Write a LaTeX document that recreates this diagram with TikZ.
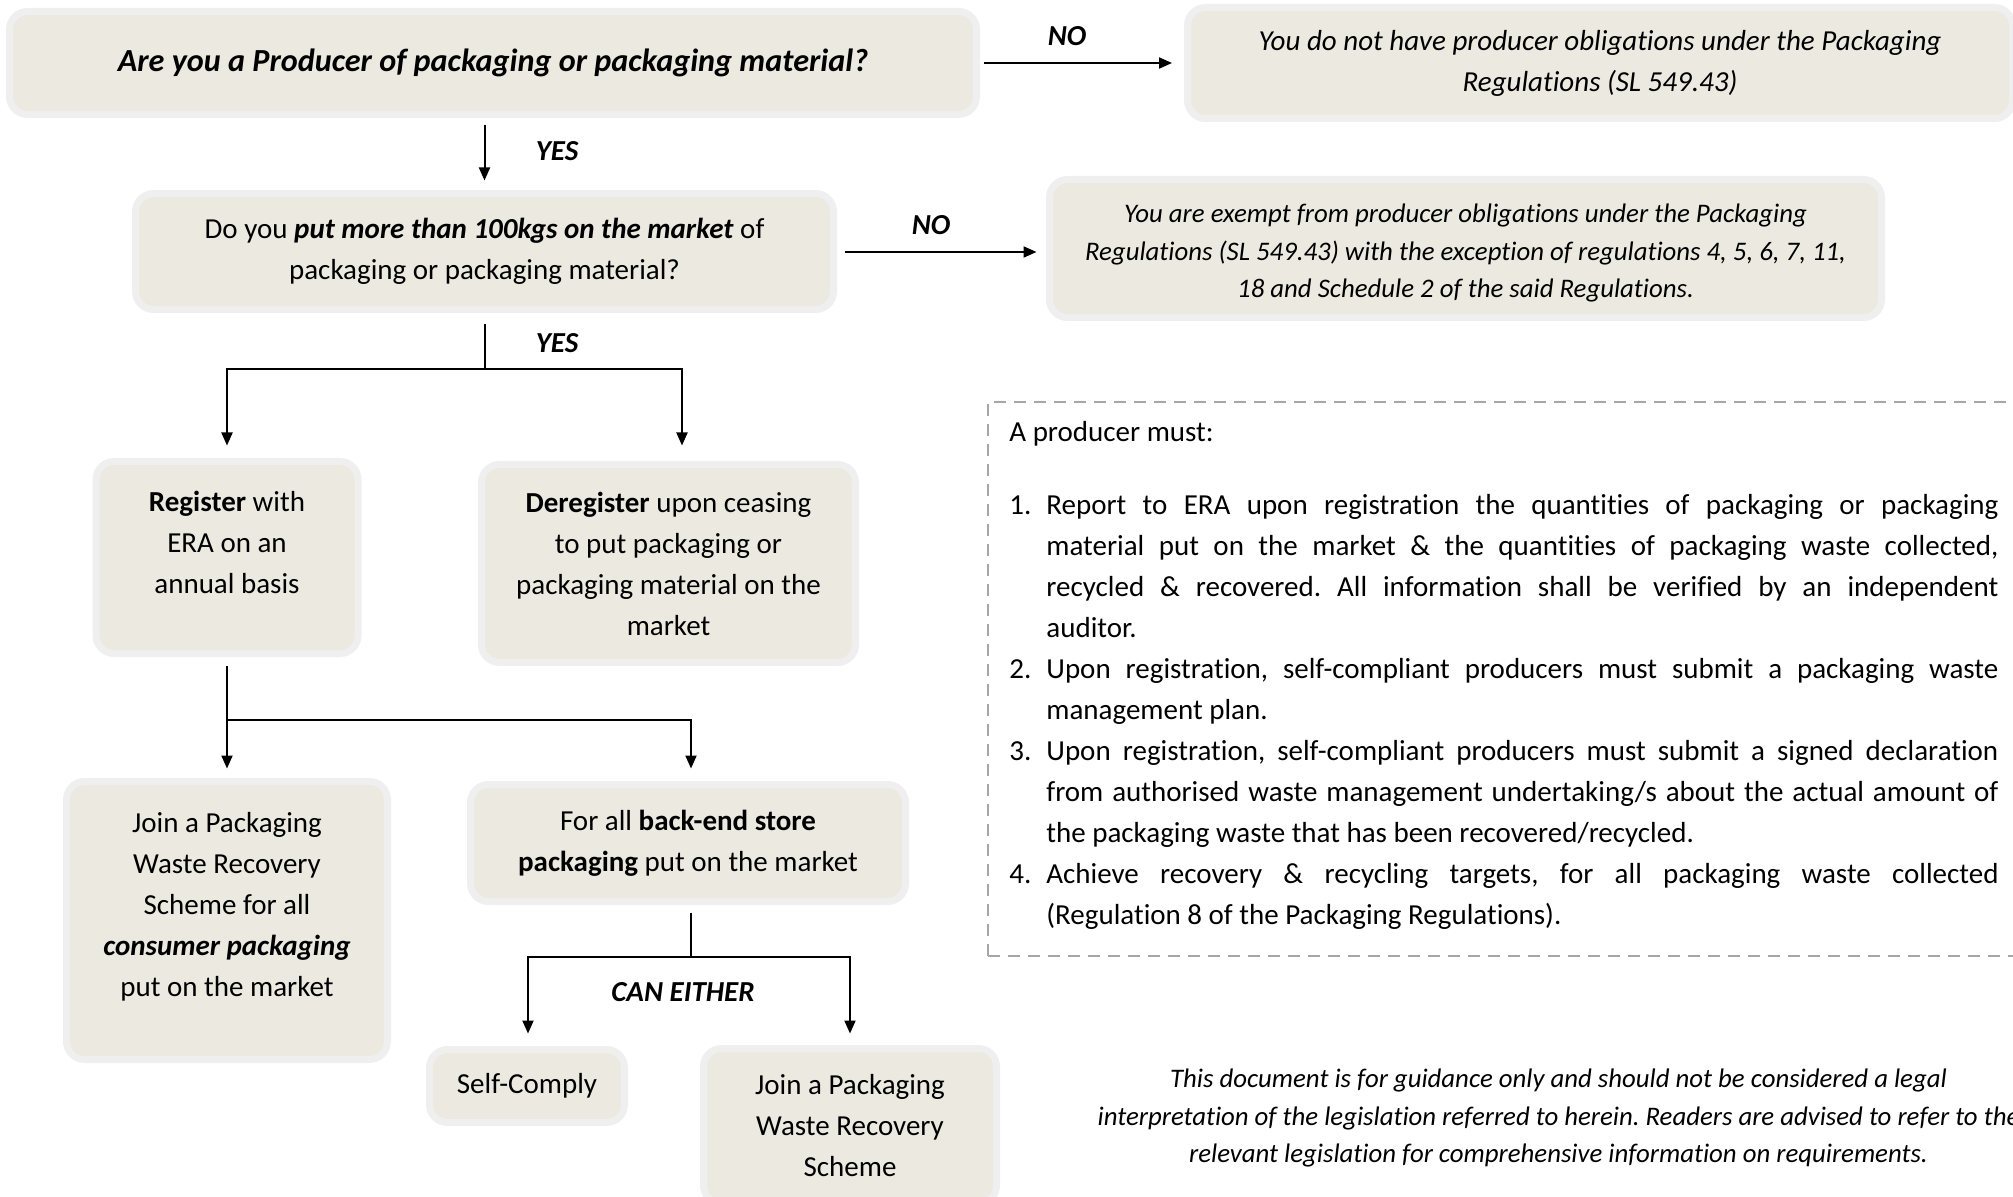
\documentclass[tikz,border=0pt]{standalone}
\usepackage{fontspec}
\setmainfont{Carlito}[Ligatures={NoCommon}]
\usetikzlibrary{arrows.meta,calc}
\definecolor{boxfill}{HTML}{ECEAE0}
\definecolor{halo}{HTML}{EFEFEF}
\definecolor{dashgray}{HTML}{A6A6A6}
\newcommand\mainfs{\fontsize{14.5}{20.5}\selectfont\frenchspacing}
\newcommand\smallfs{\fontsize{13.4}{18.8}\selectfont\frenchspacing}
\newcommand\titlefs{\fontsize{16.1}{20.5}\selectfont\frenchspacing}
\begin{document}
\begin{tikzpicture}[x=0.5pt,y=-0.5pt,
  box/.style={draw=halo, line width=3.5pt, fill=boxfill, rounded corners=9pt,
    align=center, inner sep=0pt, font=\mainfs},
  txt/.style={align=center, inner sep=0pt, font=\mainfs},
  lbl/.style={inner sep=0pt, font=\mainfs\bfseries\itshape},
  conn/.style={line width=1pt, black},
  arrow/.style={conn, -{Triangle[length=6.5pt,width=5.5pt]}},
  dashedbox/.style={draw=dashgray, line width=1pt, dash pattern=on 6pt off 4pt, inner sep=0pt}]
\useasboundingbox (0,0) rectangle (2013,1197);

% boxes
\node[box, font=\titlefs, minimum width=483.5pt, minimum height=51.5pt] (A) at (493,63)
  {\textbf{\textit{Are you a Producer of packaging or packaging material?}}};
\node[box, minimum width=412.5pt, minimum height=55.5pt] (B) at (1600,63)
  {\textit{You do not have producer obligations under the Packaging}\\\textit{Regulations (SL 549.43)}};
\node[box, minimum width=349pt, minimum height=58pt] (C) at (484.5,251.5)
  {Do you \textbf{\textit{put more than 100kgs on the market}} of\\packaging or packaging material?};
\node[box, minimum width=416pt, minimum height=69pt] (D) at (1465.5,248.5) {};
\node[txt, font=\smallfs\itshape] (Dt) at (1465.5,253)
  {You are exempt from producer obligations under the Packaging\\Regulations (SL 549.43) with the exception of regulations 4, 5, 6, 7, 11,\\18 and Schedule 2 of the said Regulations.};
\node[box, minimum width=131pt, minimum height=96pt] (E) at (227,557.5) {};
\node[txt] (Et) at (227,542) {\textbf{Register} with\\ERA on an\\annual basis};
\node[box, minimum width=187pt, minimum height=99pt] (F) at (668.5,563.5)
  {\textbf{Deregister} upon ceasing\\to put packaging or\\packaging material on the\\market};
\node[box, minimum width=160.5pt, minimum height=139pt] (G) at (227,920.5) {};
\node[txt] (Gt) at (227,907) {Join a Packaging\\Waste Recovery\\Scheme for all\\\textbf{\textit{consumer packaging}}\\put on the market};
\node[box, minimum width=217.5pt, minimum height=58.5pt] (H) at (688,843)
  {For all \textbf{back-end store}\\\textbf{packaging} put on the market};
\node[box, minimum width=97.5pt, minimum height=36.5pt] (I) at (527,1086) {Self-Comply};
\node[box, minimum width=146.5pt, minimum height=77.5pt] (J) at (850,1126)
  {Join a Packaging\\Waste Recovery\\Scheme};

% dashed info box
\node[dashedbox, minimum width=521pt, minimum height=277pt] (K) at (1509,679) {};
\node[anchor=north west, text width=494.5pt, align=justify, inner sep=0pt, font=\mainfs] (Kt) at (1009,421) {%
\noindent A producer must:\par\vspace{16pt}
\hangindent=18.5pt\hangafter=1\noindent\makebox[18.5pt][l]{1.}Report to ERA upon registration the quantities of packaging or packaging\linebreak material put on the market \& the quantities of packaging waste collected,\linebreak recycled \& recovered. All information shall be verified by an independent\linebreak auditor.\par
\hangindent=18.5pt\hangafter=1\noindent\makebox[18.5pt][l]{2.}Upon registration, self-compliant producers must submit a packaging waste\linebreak management plan.\par
\hangindent=18.5pt\hangafter=1\noindent\makebox[18.5pt][l]{3.}Upon registration, self-compliant producers must submit a signed declaration\linebreak from authorised waste management undertaking/s about the actual amount of\linebreak the packaging waste that has been recovered/recycled.\par
\hangindent=18.5pt\hangafter=1\noindent\makebox[18.5pt][l]{4.}Achieve recovery \& recycling targets, for all packaging waste collected\linebreak (Regulation 8 of the Packaging Regulations).\par};

% footer
\node[txt, font=\smallfs\itshape] (foot) at (1558.5,1118)
  {This document is for guidance only and should not be considered a legal\\interpretation of the legislation referred to herein. Readers are advised to refer to the\\relevant legislation for comprehensive information on requirements.};

% connectors
\draw[arrow, shorten <=1.75pt, shorten >=6pt] (A.east) -- (B.west);
\node[lbl] (no1) at (1067,36) {NO};
\draw[arrow] ($(C.north |- A.south)+(0,7.5)$) -- ($(C.north)+(0,-9.5)$);
\node[lbl] (yes1) at (557,151) {YES};
\draw[arrow] ($(C.east)+(7.5,0.5)$) -- ($(C.east -| D.west)+(-9.5,0.5)$);
\node[lbl] (no2) at (931,225) {NO};
\draw[conn] ($(C.south)+(0,11.5)$) -- ($(C.south)+(0,56.5)$) coordinate (cj);
\draw[arrow] (cj) -| ($(E.north)+(0,-12.5)$);
\draw[arrow] (cj) -| ($(F.north)+(13.5,-15.5)$);
\node[lbl] (yes2) at (557,343) {YES};
\draw[conn] ($(E.south)+(0,8.5)$) -- ($(E.south)+(0,62.5)$) coordinate (ej);
\draw[arrow] (ej) -| ($(G.north)+(0,-9.5)$);
\draw[arrow] (ej) -| ($(H.north)+(3,-12.5)$);
\draw[conn] ($(H.south)+(3,7.5)$) -- ($(H.south)+(3,51.5)$) coordinate (hj);
\draw[arrow] (hj) -| ($(I.north)+(1,-12.5)$);
\draw[arrow] (hj) -| ($(J.north)+(0,-11.5)$);
\node[lbl] (either) at (683,992) {CAN EITHER};
\end{tikzpicture}
\end{document}
